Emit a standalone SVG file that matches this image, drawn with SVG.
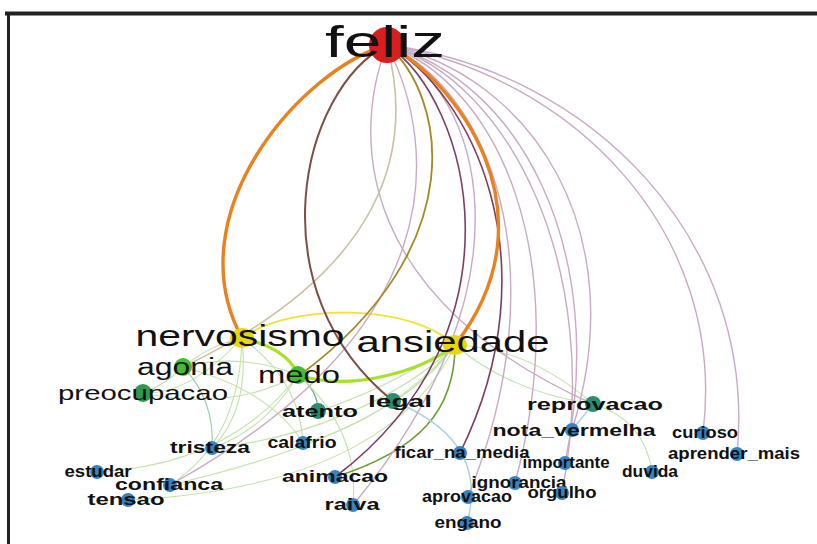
<svg xmlns="http://www.w3.org/2000/svg" width="817" height="544" viewBox="0 0 817 544">
<style>
.e{fill:none;stroke-linecap:round}
.mv{stroke:#c9aac4;stroke-width:1.4}
.dp{stroke:#7d3d62;stroke-width:1.6}
.lg{stroke:#c4e2ac;stroke-width:1.1}
.lb{stroke:#a9d3e0;stroke-width:1.4}
.n-blue{fill:#3583c2}
.n-teal{fill:#2b8d70}
.n-green{fill:#3fbf2f}
.n-yel{fill:#e6d70c}
text{font-family:"Liberation Sans",Arial,sans-serif;fill:#111;text-anchor:middle}
.s{font-size:16px;font-weight:bold}
.m{font-size:23px}
.b{font-size:29px}
</style>
<rect x="0" y="0" width="817" height="544" fill="#fff"/>
<g id="frame">
<line x1="5" y1="13.5" x2="817" y2="13.5" stroke="#222" stroke-width="4"/>
<line x1="8.5" y1="12" x2="8.5" y2="544" stroke="#222" stroke-width="3"/>
</g>
<g id="connectors">
<path class="e lg" d="M242,338 Q210,345 183,367"/>
<path class="e lg" d="M242,338 Q190,395 143,393"/>
<path class="e lg" d="M242,338 Q250,410 212,448"/>
<path class="e lg" d="M242,338 Q240,440 170,485"/>
<path class="e lg" d="M242,338 Q300,380 303,443"/>
<path class="e lg" d="M183,367 Q240,352 298,375"/>
<path class="e lg" d="M183,367 Q165,385 143,393"/>
<path class="e" stroke="#94cfa8" stroke-width="1.1" d="M183,367 Q215,400 212,448"/>
<path class="e lg" d="M183,367 Q270,390 303,443"/>
<path class="e lg" d="M143,393 Q230,412 298,375"/>
<path class="e" stroke="#6aae84" stroke-width="1.3" d="M298,375 Q318,390 318,411"/>
<path class="e lg" d="M298,375 Q265,430 212,448"/>
<path class="e lg" d="M298,375 Q360,430 353,505"/>
<path class="e lg" d="M298,375 Q230,465 97,472"/>
<path class="e lg" d="M455,345 C420,420 330,490 128,500"/>
<path class="e lg" d="M455,345 Q380,392 318,411"/>
<path class="e lg" d="M455,345 Q390,420 303,443"/>
<path class="e lg" d="M455,345 Q420,388 393,401"/>
<path class="e lg" d="M455,345 C400,400 300,440 212,448"/>
<path class="e lg" d="M455,345 C410,410 300,455 170,485"/>
<path class="e lg" d="M455,345 Q530,348 593,404"/>
<path class="e lg" d="M455,345 Q510,392 593,404"/>
<path class="e lg" d="M593,404 Q645,420 652,472"/>
<path class="e" stroke="#6d9c35" stroke-width="1.6" d="M455,345 C455,410 420,450 335,477"/>
<path class="e lb" d="M593,404 L572,430"/>
<path class="e lb" d="M393,401 Q490,440 467,523"/>
<path class="e" stroke="#f0e23a" stroke-width="1.8" d="M242,338 C290,303 410,303 455,345"/>
<path class="e" stroke="#a6e22a" stroke-width="3.2" d="M242,338 C270,345 290,355 298,375"/>
<path class="e" stroke="#a6e22a" stroke-width="3.2" d="M298,375 C350,392 420,372 455,345"/>
<path class="e mv" d="M387,45 C590,70 758,240 737,454"/>
<path class="e mv" d="M387,45 C570,75 728,230 703,433"/>
<path class="e mv" d="M387,45 C530,75 635,230 572,430"/>
<path class="e mv" d="M387,45 C520,80 610,250 565,463"/>
<path class="e mv" d="M387,45 C510,80 605,270 562,493"/>
<path class="e mv" d="M387,45 C500,85 575,260 515,483"/>
<path class="e mv" d="M387,45 C490,90 560,270 468,497"/>
<path class="e mv" d="M387,45 C480,90 540,280 353,505"/>
<path class="e mv" d="M387,45 C350,140 360,300 593,404"/>
<path class="e mv" d="M387,45 C440,150 450,330 170,485"/>
<path class="e dp" d="M387,45 C470,90 555,260 460,453"/>
<path class="e dp" d="M387,45 C470,100 530,330 335,477"/>
<path class="e" stroke="#c9c1a0" stroke-width="1.6" d="M387,45 C415,150 385,270 183,367"/>
<path class="e" stroke="#a38820" stroke-width="1.8" d="M387,45 C445,95 475,245 300,375"/>
<path class="e" stroke="#7a5045" stroke-width="2" d="M387,45 C300,90 255,290 393,401"/>
<path class="e" stroke="#e8821e" stroke-width="3.4" d="M387,45 C300,70 175,215 242,338"/>
<path class="e" stroke="#e8821e" stroke-width="3.4" d="M387,45 C450,75 560,210 455,345"/>
</g>
<g id="feliz"><circle cx="387" cy="45" r="18" fill="#d61f1f"/><text x="385" y="57" font-size="44" textLength="120" lengthAdjust="spacingAndGlyphs">feliz</text></g>
<g id="nervosismo"><ellipse cx="242" cy="338" rx="12" ry="10" class="n-yel"/><text class="b" x="240" y="346" textLength="209" lengthAdjust="spacingAndGlyphs">nervosismo</text></g>
<g id="ansiedade"><ellipse cx="455" cy="345" rx="12" ry="10" class="n-yel"/><text class="b" x="453" y="352" textLength="193" lengthAdjust="spacingAndGlyphs">ansiedade</text></g>
<g id="agonia"><circle cx="183" cy="367" r="9" class="n-green"/><text class="m" x="185" y="375" textLength="96" lengthAdjust="spacingAndGlyphs">agonia</text></g>
<g id="medo"><circle cx="298" cy="375" r="9" class="n-green"/><text class="m" x="299" y="383" textLength="82" lengthAdjust="spacingAndGlyphs">medo</text></g>
<g id="preocupacao"><circle cx="143" cy="393" r="9" fill="#2f9a4e"/><text x="143" y="400" font-size="21" textLength="170" lengthAdjust="spacingAndGlyphs">preocupacao</text></g>
<g id="atento"><circle cx="318" cy="411" r="8" class="n-teal"/><text class="s" x="320" y="417" font-size="18" textLength="76" lengthAdjust="spacingAndGlyphs">atento</text></g>
<g id="legal"><circle cx="393" cy="401" r="8" class="n-teal"/><text class="s" x="400" y="407" font-size="18" textLength="64" lengthAdjust="spacingAndGlyphs">legal</text></g>
<g id="reprovacao"><circle cx="593" cy="404" r="8" class="n-teal"/><text class="s" x="595" y="410" textLength="136" lengthAdjust="spacingAndGlyphs">reprovacao</text></g>
<g id="nota_vermelha"><circle cx="572" cy="430" r="7" class="n-blue"/><text class="s" x="574" y="436" font-size="17" textLength="163" lengthAdjust="spacingAndGlyphs">nota_vermelha</text></g>
<g id="curioso"><circle cx="703" cy="433" r="7" class="n-blue"/><text class="s" x="705" y="438" textLength="66" lengthAdjust="spacingAndGlyphs">curioso</text></g>
<g id="aprender_mais"><circle cx="737" cy="454" r="7" class="n-blue"/><text class="s" x="734" y="459" textLength="132" lengthAdjust="spacingAndGlyphs">aprender_mais</text></g>
<g id="duvida"><circle cx="652" cy="472" r="7" class="n-blue"/><text class="s" x="650" y="477" textLength="56" lengthAdjust="spacingAndGlyphs">duvida</text></g>
<g id="importante"><circle cx="565" cy="463" r="7" class="n-blue"/><text class="s" x="566" y="468" textLength="87" lengthAdjust="spacingAndGlyphs">importante</text></g>
<g id="ignorancia"><circle cx="515" cy="483" r="7" class="n-blue"/><text class="s" x="519" y="488" textLength="95" lengthAdjust="spacingAndGlyphs">ignorancia</text></g>
<g id="orgulho"><circle cx="562" cy="493" r="7" class="n-blue"/><text class="s" x="562" y="498" textLength="69" lengthAdjust="spacingAndGlyphs">orgulho</text></g>
<g id="ficar_na_media"><circle cx="460" cy="453" r="7" class="n-blue"/><text class="s" x="462" y="458" textLength="135" lengthAdjust="spacingAndGlyphs">ficar_na_media</text></g>
<g id="aprovacao"><circle cx="468" cy="497" r="7" class="n-blue"/><text class="s" x="467" y="502" textLength="90" lengthAdjust="spacingAndGlyphs">aprovacao</text></g>
<g id="engano"><circle cx="467" cy="523" r="7" class="n-blue"/><text class="s" x="468" y="528" textLength="67" lengthAdjust="spacingAndGlyphs">engano</text></g>
<g id="animacao"><circle cx="335" cy="477" r="7" class="n-blue"/><text class="s" x="335" y="482" font-size="17" textLength="106" lengthAdjust="spacingAndGlyphs">animacao</text></g>
<g id="raiva"><circle cx="353" cy="505" r="7" class="n-blue"/><text class="s" x="352" y="510" font-size="17" textLength="55" lengthAdjust="spacingAndGlyphs">raiva</text></g>
<g id="calafrio"><circle cx="303" cy="443" r="7" class="n-blue"/><text class="s" x="302" y="448" textLength="69" lengthAdjust="spacingAndGlyphs">calafrio</text></g>
<g id="tristeza"><circle cx="212" cy="448" r="7" class="n-blue"/><text class="s" x="210" y="453" font-size="17" textLength="80" lengthAdjust="spacingAndGlyphs">tristeza</text></g>
<g id="estudar"><circle cx="97" cy="472" r="7" class="n-blue"/><text class="s" x="98" y="477" textLength="67" lengthAdjust="spacingAndGlyphs">estudar</text></g>
<g id="confianca"><circle cx="170" cy="485" r="7" class="n-blue"/><text class="s" x="169" y="490" font-size="17" textLength="108" lengthAdjust="spacingAndGlyphs">confianca</text></g>
<g id="tensao"><circle cx="128" cy="500" r="7" class="n-blue"/><text class="s" x="126" y="505" font-size="17" textLength="77" lengthAdjust="spacingAndGlyphs">tensao</text></g>
</svg>
